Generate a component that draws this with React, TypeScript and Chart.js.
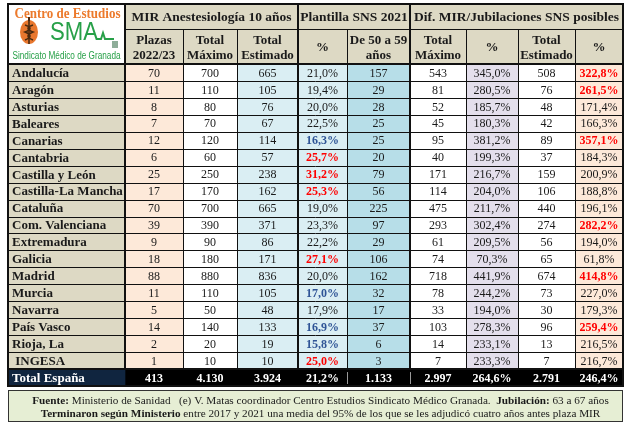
import React, { useEffect, useRef } from 'react';
import { Chart, registerables } from 'chart.js';
Chart.register(...registerables);

// ---------- DATA ----------
const regions = [
  'Andalucía', 'Aragón', 'Asturias', 'Baleares', 'Canarias', 'Cantabria',
  'Castilla y León', 'Castilla-La Mancha', 'Cataluña', 'Com. Valenciana',
  'Extremadura', 'Galicia', 'Madrid', 'Murcia', 'Navarra', 'País Vasco',
  'Rioja, La', ' INGESA',
];
const totalLabel = 'Total España';
const plazas2022 = [70, 11, 8, 7, 12, 6, 25, 17, 70, 39, 9, 18, 88, 11, 5, 14, 2, 1];
const mirTotalMax = [700, 110, 80, 70, 120, 60, 250, 170, 700, 390, 90, 180, 880, 110, 50, 140, 20, 10];
const mirTotalEst = [665, 105, 76, 67, 114, 57, 238, 162, 665, 371, 86, 171, 836, 105, 48, 133, 19, 10];
const plantillaPct = [21.0, 19.4, 20.0, 22.5, 16.3, 25.7, 31.2, 25.3, 19.0, 23.3, 22.2, 27.1, 20.0, 17.0, 17.9, 16.9, 15.8, 25.0];
const age50to59 = [157, 29, 28, 25, 25, 20, 79, 56, 225, 97, 29, 106, 162, 32, 17, 37, 6, 3];
const difTotalMax = [543, 81, 52, 45, 95, 40, 171, 114, 475, 293, 61, 74, 718, 78, 33, 103, 14, 7];
const difMaxPct = [345.0, 280.5, 185.7, 180.3, 381.2, 199.3, 216.7, 204.0, 211.7, 302.4, 209.5, 70.3, 441.9, 244.2, 194.0, 278.3, 233.1, 233.3];
const difTotalEst = [508, 76, 48, 42, 89, 37, 159, 106, 440, 274, 56, 65, 674, 73, 30, 96, 13, 7];
const difEstPct = [322.8, 261.5, 171.4, 166.3, 357.1, 184.3, 200.9, 188.8, 196.1, 282.2, 194.0, 61.8, 414.8, 227.0, 179.3, 259.4, 216.5, 216.7];
const totalsRow = [413, 4130, 3924, 21.2, 1133, 2997, 264.6, 2791, 246.4];

const groupHeaders = ['MIR Anestesiología 10 años', 'Plantilla SNS 2021', 'Dif. MIR/Jubilaciones SNS posibles'];
const subHeaders = [
  ['Plazas', '2022/23'], ['Total', 'Máximo'], ['Total', 'Estimado'], ['%'],
  ['De 50 a 59', 'años'], ['Total', 'Máximo'], ['%'], ['Total', 'Estimado'], ['%'],
];
const footerLine1 = [
  { t: 'Fuente:', b: true }, { t: ' Ministerio de Sanidad   (e) V. Matas coordinador Centro Estudios Sindicato Médico Granada.  ', b: false },
  { t: 'Jubilación:', b: true }, { t: ' 63 a 67 años', b: false },
];
const footerLine2 = [
  { t: 'Terminaron según Ministerio', b: true },
  { t: ' entre 2017 y 2021 una media del 95% de los que se les adjudicó cuatro años antes plaza MIR', b: false },
];
const logoTitle = 'Centro de Estudios';
const logoMark = 'SMA';
const logoSubtitle = 'Sindicato Médico de Granada';

const valueColumns = [plazas2022, mirTotalMax, mirTotalEst, plantillaPct, age50to59, difTotalMax, difMaxPct, difTotalEst, difEstPct];
const columnIsPct = [false, false, false, true, false, false, true, false, true];

// ---------- LAYOUT / STYLE ----------
const COL_WIDTHS = [117, 58, 54, 61, 49, 63, 56, 52, 57, 48];
const BEIGE = '#ddd9c4';
const PEACH = '#fde9d9';
const LBLUE = '#daeef3';
const MBLUE = '#b7dee8';
const LAV = '#e4dfec';
const COL_BG = [BEIGE, PEACH, '#ffffff', LBLUE, LBLUE, MBLUE, '#ffffff', LAV, '#ffffff', PEACH];
const NAVY = '#10253f';
const GROUP_SPANS = [[1, 4], [4, 6], [6, 10]];
const THICK_COLS = [1, 4, 6];
const H1 = 25;
const H2 = 35;
const SERIF = '"Liberation Serif", "Times New Roman", serif';
const SANS = '"Liberation Sans", Arial, sans-serif';
const RED = '#ff0000';
const BLUE = '#2f5496';
const ORANGE = '#ec7a2c';
const GREEN = '#27a048';

function fmtInt(n: number) {
  const s = String(Math.round(n));
  return s.replace(/\B(?=(\d{3})+(?!\d))/g, '.');
}
function fmtPct(v: number) {
  return v.toFixed(1).replace('.', ',') + '%';
}

function fitText(ctx: CanvasRenderingContext2D, text: string, cx: number, cy: number, width: number) {
  const w = ctx.measureText(text).width;
  ctx.save();
  ctx.translate(cx, cy);
  ctx.scale(width / w, 1);
  ctx.textAlign = 'center';
  ctx.fillText(text, 0, 0);
  ctx.restore();
}

function drawLogo(ctx: CanvasRenderingContext2D, x0: number, y0: number, x1: number) {
  ctx.save();
  ctx.textBaseline = 'middle';
  ctx.fillStyle = ORANGE;
  ctx.font = `bold 14px ${SERIF}`;
  fitText(ctx, logoTitle, (x0 + x1) / 2 + 1, y0 + 10, 106);
  // emblem
  const ex = x0 + 21, ey = y0 + 28;
  ctx.fillStyle = '#e8772e';
  ctx.beginPath();
  ctx.ellipse(ex, ey, 9, 12, 0, 0, Math.PI * 2);
  ctx.fill();
  ctx.fillStyle = '#4a2a10';
  ctx.fillRect(ex - 1, ey - 15, 2, 4);
  ctx.strokeStyle = '#4a2a10';
  ctx.lineWidth = 1.6;
  ctx.beginPath();
  ctx.moveTo(ex, ey - 11);
  ctx.lineTo(ex, ey + 12);
  ctx.stroke();
  ctx.beginPath();
  ctx.moveTo(ex - 4, ey - 7);
  ctx.quadraticCurveTo(ex + 6, ey - 4, ex - 4, ey);
  ctx.quadraticCurveTo(ex + 6, ey + 4, ex - 4, ey + 8);
  ctx.stroke();
  ctx.beginPath();
  ctx.moveTo(ex + 4, ey - 7);
  ctx.quadraticCurveTo(ex - 6, ey - 4, ex + 4, ey);
  ctx.quadraticCurveTo(ex - 6, ey + 4, ex + 4, ey + 8);
  ctx.stroke();
  // SMA mark
  ctx.fillStyle = GREEN;
  ctx.font = `26px ${SANS}`;
  ctx.textBaseline = 'alphabetic';
  fitText(ctx, logoMark, x0 + 66, y0 + 36, 48);
  ctx.strokeStyle = GREEN;
  ctx.lineWidth = 2;
  ctx.beginPath();
  ctx.moveTo(x0 + 89, y0 + 35);
  ctx.lineTo(x0 + 93, y0 + 35);
  ctx.lineTo(x0 + 95, y0 + 29);
  ctx.lineTo(x0 + 97, y0 + 35);
  ctx.lineTo(x0 + 106, y0 + 35);
  ctx.stroke();
  ctx.fillStyle = '#8fae9a';
  ctx.fillRect(x0 + 104, y0 + 37, 6, 7);
  ctx.fillStyle = GREEN;
  ctx.font = `10px ${SANS}`;
  ctx.textBaseline = 'middle';
  fitText(ctx, logoSubtitle, (x0 + x1) / 2, y0 + 52, 108);
  ctx.restore();
}

function drawRich(ctx: CanvasRenderingContext2D, segs: { t: string; b: boolean }[], cx: number, cy: number, size: number) {
  let total = 0;
  const ws = segs.map((s) => {
    ctx.font = `${s.b ? 'bold ' : ''}${size}px ${SERIF}`;
    const w = ctx.measureText(s.t).width;
    total += w;
    return w;
  });
  let x = cx - total / 2;
  ctx.textAlign = 'left';
  segs.forEach((s, i) => {
    ctx.font = `${s.b ? 'bold ' : ''}${size}px ${SERIF}`;
    ctx.fillText(s.t, x, cy);
    x += ws[i];
  });
}

const tablePlugin = {
  id: 'tablePlugin',
  afterDatasetsDraw(chart: any) {
    const ctx: CanvasRenderingContext2D = chart.ctx;
    const { left, right, top, bottom } = chart.chartArea;
    const n = chart.data.labels.length;
    const metas = COL_WIDTHS.map((_, c) => chart.getDatasetMeta(c));
    const edges = [left, ...metas.map((m: any) => Math.max(m.data[0].x, m.data[0].base))];
    const rowTop = (r: number) => { const e = metas[0].data[r]; return e.y - e.height / 2; };
    const yTop = top - H1 - H2;
    ctx.save();

    // header backgrounds
    ctx.fillStyle = BEIGE;
    ctx.fillRect(edges[1], yTop, right - edges[1], H1 + H2);
    ctx.fillStyle = '#ffffff';
    ctx.fillRect(edges[0], yTop, edges[1] - edges[0], H1 + H2);
    drawLogo(ctx, edges[0], yTop, edges[1]);

    // header texts
    ctx.fillStyle = '#1a1a1a';
    ctx.textAlign = 'center';
    ctx.textBaseline = 'middle';
    ctx.font = `bold 13.5px ${SERIF}`;
    GROUP_SPANS.forEach(([a, b], i) => {
      ctx.fillText(groupHeaders[i], (edges[a] + edges[b]) / 2, yTop + H1 / 2 + 1);
    });
    ctx.font = `bold 13px ${SERIF}`;
    subHeaders.forEach((lines, i) => {
      const cx = (edges[i + 1] + edges[i + 2]) / 2;
      const cy = yTop + H1 + H2 / 2;
      if (lines.length === 1) ctx.fillText(lines[0], cx, cy + 1);
      else {
        ctx.fillText(lines[0], cx, cy - 6);
        ctx.fillText(lines[1], cx, cy + 9);
      }
    });

    // cell texts
    metas.forEach((m: any, c: number) => {
      m.data.forEach((el: any, r: number) => {
        const x0 = Math.min(el.x, el.base);
        const x1 = Math.max(el.x, el.base);
        const y = el.y + 1;
        const isTotal = r === n - 1;
        if (c === 0) {
          ctx.textAlign = 'left';
          ctx.font = `bold 13px ${SERIF}`;
          ctx.fillStyle = isTotal ? '#ffffff' : '#1a1a1a';
          ctx.fillText(chart.data.labels[r], x0 + 4, y);
          return;
        }
        const v = isTotal ? totalsRow[c - 1] : valueColumns[c - 1][r];
        const pct = columnIsPct[c - 1];
        const txt = pct ? fmtPct(v) : fmtInt(v);
        let color = '#1a1a1a';
        let bold = false;
        if (isTotal) { color = '#ffffff'; bold = true; }
        else if (c === 4) {
          if (v >= 25) { color = RED; bold = true; }
          else if (v < 17.5) { color = BLUE; bold = true; }
        } else if (c === 9 && v > 250) { color = RED; bold = true; }
        ctx.textAlign = 'center';
        ctx.font = `${bold ? 'bold ' : ''}12px ${SERIF}`;
        ctx.fillStyle = color;
        ctx.fillText(txt, (x0 + x1) / 2, y);
      });
    });

    // grid lines
    ctx.strokeStyle = '#111111';
    ctx.lineWidth = 1;
    const totTop = rowTop(n - 1);
    for (let r = 1; r < n - 1; r++) {
      const y = Math.round(rowTop(r)) + 0.5;
      ctx.beginPath(); ctx.moveTo(left, y); ctx.lineTo(right, y); ctx.stroke();
    }
    {
      const y = Math.round(yTop + H1) + 0.5;
      ctx.beginPath(); ctx.moveTo(edges[1], y); ctx.lineTo(right, y); ctx.stroke();
    }
    for (let k = 1; k < edges.length - 1; k++) {
      const thick = THICK_COLS.includes(k);
      ctx.lineWidth = thick ? 2 : 1;
      const x = thick ? Math.round(edges[k]) : Math.round(edges[k]) + 0.5;
      const ys = thick ? yTop : yTop + H1;
      ctx.beginPath(); ctx.moveTo(x, ys); ctx.lineTo(x, totTop); ctx.stroke();
    }
    ctx.lineWidth = 2;
    ctx.beginPath(); ctx.moveTo(left, Math.round(top)); ctx.lineTo(right, Math.round(top)); ctx.stroke();
    ctx.beginPath(); ctx.moveTo(left, Math.round(totTop)); ctx.lineTo(right, Math.round(totTop)); ctx.stroke();
    ctx.strokeRect(Math.round(left), Math.round(yTop), Math.round(right - left), Math.round(bottom - yTop));
    // light separators inside total row
    ctx.strokeStyle = '#9a9a9a';
    ctx.lineWidth = 1;
    [5, 6].forEach((k) => {
      const x = Math.round(edges[k]) + 0.5;
      ctx.beginPath(); ctx.moveTo(x, totTop + 3); ctx.lineTo(x, bottom - 2); ctx.stroke();
    });

    // footer
    const fy = Math.round(bottom) + 4;
    const fh = 31;
    ctx.fillStyle = '#e6eed4';
    ctx.fillRect(left, fy, right - left, fh);
    ctx.strokeStyle = '#333333';
    ctx.lineWidth = 1;
    ctx.strokeRect(Math.round(left) + 0.5, fy + 0.5, Math.round(right - left) - 1, fh);
    ctx.fillStyle = '#1a1a1a';
    ctx.textBaseline = 'middle';
    const fcx = (left + right) / 2 + 5;
    drawRich(ctx, footerLine1, fcx, fy + 11, 11.2);
    drawRich(ctx, footerLine2, fcx, fy + 24, 11.2);
    ctx.restore();
  },
};

export default function App() {
  const ref = useRef<HTMLCanvasElement | null>(null);
  useEffect(() => {
    if (!ref.current) return;
    const labels = [...regions, totalLabel];
    const n = labels.length;
    const datasets = COL_WIDTHS.map((w, c) => ({
      label: 'col' + c,
      data: labels.map(() => w),
      backgroundColor: labels.map((_, r) => (r === n - 1 ? (c === 0 ? NAVY : '#000000') : COL_BG[c])),
      borderWidth: 0,
      barPercentage: 1,
      categoryPercentage: 1,
    }));
    const chart = new Chart(ref.current, {
      type: 'bar',
      data: { labels, datasets },
      options: {
        indexAxis: 'y',
        responsive: false,
        animation: false,
        devicePixelRatio: 1,
        layout: { padding: { left: 8, right: 6, top: 64, bottom: 42 } },
        plugins: { legend: { display: false }, tooltip: { enabled: false }, title: { display: false } },
        scales: {
          x: { type: 'linear', stacked: true, min: 0, max: COL_WIDTHS.reduce((a, b) => a + b, 0), display: false },
          y: { type: 'category', stacked: true, display: false },
        },
      },
      plugins: [tablePlugin],
    } as any);
    return () => chart.destroy();
  }, []);
  return (
    <div style={{ position: 'fixed', left: 0, top: 0, width: 629, height: 428, background: '#ffffff' }}>
      <canvas ref={ref} width={629} height={428} style={{ display: 'block' }} />
    </div>
  );
}
